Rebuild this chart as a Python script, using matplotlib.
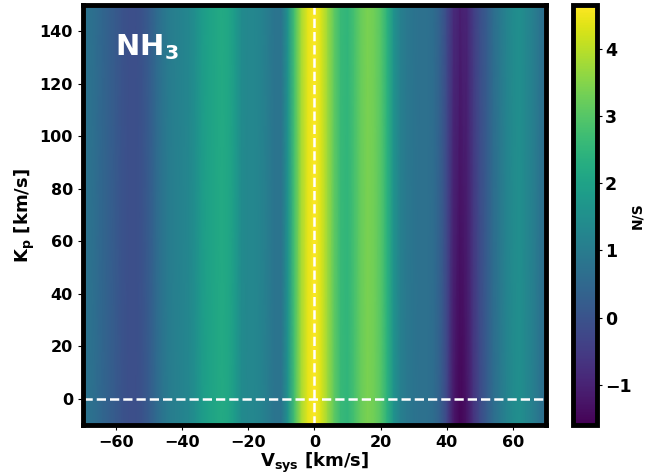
import numpy as np
import matplotlib
matplotlib.use('Agg')
import matplotlib.pyplot as plt

# Rejilla de velocidades sistemicas (km/s) y de Kp (km/s)
vsys = np.arange(-70, 71, 2)
kp = [-10, 150]

# Perfil de S/N a lo largo de Vsys en la fila inferior y en la superior del mapa
snr_abajo = [0.8, 0.75, 0.6, 0.45, 0.3, 0.15, 0.0, -0.1, -0.1, 0.0,
             0.2, 0.5, 0.8, 1.0, 1.1, 1.2, 1.3, 1.5, 1.8, 2.0,
             2.1, 2.2, 2.1, 1.8, 1.4, 1.3, 1.3, 1.2, 1.0, 0.8,
             0.8, 1.6, 2.8, 3.8, 4.4, 4.65, 4.3, 3.7, 3.1, 2.6,
             2.5, 2.8, 3.2, 3.4, 3.3, 3.0, 2.4, 1.6, 1.1, 0.9,
             0.8, 0.7, 0.7, 0.6, 0.3, -0.3, -1.2, -1.55, -1.3, -0.7,
             -0.2, 0.2, 0.6, 0.9, 1.2, 1.4, 1.5, 1.3, 1.1, 0.8, 0.6]
snr_arriba = [0.8, 0.75, 0.6, 0.45, 0.3, 0.15, 0.0, -0.1, -0.1, 0.0,
              0.2, 0.5, 0.8, 1.0, 1.1, 1.2, 1.3, 1.5, 1.8, 2.0,
              2.1, 2.2, 2.1, 1.8, 1.4, 1.3, 1.3, 1.2, 1.0, 0.8,
              0.8, 1.6, 2.8, 3.8, 4.4, 4.65, 4.3, 3.7, 3.1, 2.6,
              2.5, 2.8, 3.2, 3.4, 3.3, 3.0, 2.4, 1.6, 1.1, 0.9,
              0.8, 0.7, 0.7, 0.6, 0.3, -0.2, -0.8, -1.05, -0.95, -0.5,
              -0.1, 0.2, 0.6, 0.9, 1.2, 1.4, 1.5, 1.3, 1.1, 0.8, 0.6]

snr = np.array([snr_abajo, snr_arriba])

fig = plt.figure(figsize=(6.62, 4.76), dpi=100)
ax = fig.add_axes([0.125, 0.107, 0.700, 0.882])
cax = fig.add_axes([0.866, 0.107, 0.036, 0.882])

mapa = ax.pcolormesh(vsys, kp, snr, shading='gouraud', cmap='viridis',
                     vmin=-1.6, vmax=4.65)
ax.axvline(0, color='white', ls='--', lw=1.8)
ax.axhline(0, color='white', ls='--', lw=1.8)
ax.set_xlim(-70, 70)
ax.set_ylim(-10, 150)

ax.set_xlabel(r'$\mathbf{V_{sys}}$ [km/s]', fontsize=13, fontweight='bold',
              labelpad=1)
ax.set_ylabel(r'$\mathbf{K_p}$ [km/s]', fontsize=13, fontweight='bold',
              labelpad=2)
ax.text(0.07, 0.935, r'$\mathbf{NH_3}$', transform=ax.transAxes, color='white',
        fontsize=21, fontweight='bold', va='top')

for lab in ax.get_xticklabels() + ax.get_yticklabels():
    lab.set_fontweight('bold')
ax.tick_params(labelsize=11.5)
for sp in ax.spines.values():
    sp.set_linewidth(3.5)

cb = fig.colorbar(mapa, cax=cax)
cb.set_ticks([-1, 0, 1, 2, 3, 4])
cb.set_label('N/S', fontsize=10, fontweight='bold', labelpad=-1)
cb.outline.set_linewidth(3.5)
cax.tick_params(labelsize=12.5, pad=2)
for lab in cax.get_yticklabels():
    lab.set_fontweight('bold')

plt.savefig('out.png', dpi=100)
